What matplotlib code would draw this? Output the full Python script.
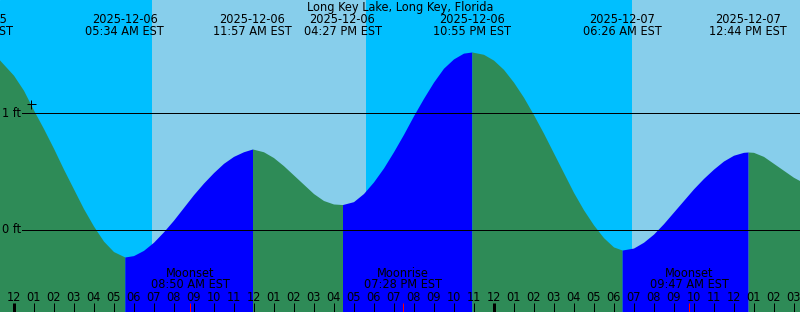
import matplotlib
matplotlib.use("Agg")
import matplotlib.pyplot as plt
import matplotlib.transforms as mtransforms
from datetime import datetime

# ---------------- data ----------------
title = "Long Key Lake, Long Key, Florida"

# tide height samples (hours after 2025-12-06 00:00 EST, feet)
tide_hours = [-1.0, -0.675, 0.0, 0.5, 1.0, 1.5, 2.0, 2.5, 3.0, 3.5, 4.0, 4.5, 5.0, 5.567,
              6.0, 6.5, 7.0, 7.5, 8.0, 8.5, 9.0, 9.5, 10.0, 10.5, 11.0, 11.5, 11.95,
              12.5, 13.0, 13.5, 14.0, 14.5, 15.0, 15.5, 16.0, 16.45,
              17.0, 17.5, 18.0, 18.5, 19.0, 19.5, 20.0, 20.5, 21.0, 21.5, 22.0, 22.5, 22.917,
              23.5, 24.0, 24.5, 25.0, 25.5, 26.0, 26.5, 27.0, 27.5, 28.0, 28.5, 29.0, 29.5, 30.0, 30.433,
              31.0, 31.5, 32.0, 32.5, 33.0, 33.5, 34.0, 34.5, 35.0, 35.5, 36.0, 36.5, 36.733,
              37.0, 37.5, 38.0, 38.5, 39.0, 39.325, 39.5]
tide_feet = [1.53, 1.457, 1.33, 1.20, 1.03, 0.87, 0.70, 0.52, 0.35, 0.18, 0.03, -0.10, -0.19, -0.237,
             -0.225, -0.18, -0.11, -0.02, 0.08, 0.19, 0.30, 0.40, 0.49, 0.57, 0.63, 0.67, 0.694,
             0.67, 0.62, 0.55, 0.47, 0.39, 0.31, 0.25, 0.22, 0.215,
             0.24, 0.31, 0.41, 0.53, 0.67, 0.82, 0.98, 1.13, 1.27, 1.39, 1.47, 1.52, 1.53,
             1.51, 1.46, 1.38, 1.27, 1.14, 0.99, 0.83, 0.66, 0.49, 0.32, 0.17, 0.04, -0.07, -0.15, -0.177,
             -0.16, -0.11, -0.04, 0.05, 0.15, 0.25, 0.35, 0.44, 0.52, 0.59, 0.64, 0.665, 0.668,
             0.665, 0.63, 0.57, 0.51, 0.45, 0.42, 0.40]

# high / low tide labels
ext_dates = ["2025-12-05", "2025-12-06", "2025-12-06", "2025-12-06", "2025-12-06",
             "2025-12-07", "2025-12-07", "2025-12-07"]
ext_times = ["10:02 PM EST", "05:34 AM EST", "11:57 AM EST", "04:27 PM EST", "10:55 PM EST",
             "06:26 AM EST", "12:44 PM EST", "05:17 PM EST"]

# moon events
moon_names = ["Moonset", "Moonrise", "Moonset"]
moon_dates = ["2025-12-06", "2025-12-06", "2025-12-07"]
moon_times = ["08:50 AM EST", "07:28 PM EST", "09:47 AM EST"]

# daylight intervals (hours after 2025-12-06 00:00)
day_start = [6.93, 30.93]
day_end = [17.6, 42.0]

# current-time marker
now_hour = 0.85
now_feet = 1.078

hour_labels = ["12", "01", "02", "03", "04", "05", "06", "07", "08", "09", "10", "11"]
level_values = [0, 1]
level_labels = ["0 ft", "1 ft"]

# ---------------- helpers ----------------
base = datetime(2025, 12, 6)


def to_hours(d, t):
    dt = datetime.strptime(d + " " + t.replace(" EST", ""), "%Y-%m-%d %I:%M %p")
    return (dt - base).total_seconds() / 3600.0


W, H = 800, 312
X0, X1 = -0.675, 39.325
Y0, Y1 = -0.711, 1.978

fig = plt.figure(figsize=(W / 100, H / 100), dpi=100)
ax = fig.add_axes([0, 0, 1, 1])
ax.set_xlim(X0, X1)
ax.set_ylim(Y0, Y1)
ax.axis("off")

NIGHT = "#00BFFF"
DAY = "#87CEEB"
FLOOD = "#0000FF"
EBB = "#2E8B57"

ax.add_patch(plt.Rectangle((X0, Y0), X1 - X0, Y1 - Y0, color=NIGHT, zorder=0))
for s, e in zip(day_start, day_end):
    ax.axvspan(s, e, color=DAY, lw=0, zorder=0.5)

# tide fill: flood (rising) blue, ebb (falling) green
groups = []
cur = None
for i in range(len(tide_hours) - 1):
    col = FLOOD if tide_feet[i + 1] > tide_feet[i] else EBB
    if cur is None or cur[0] != col:
        cur = [col, [i]]
        groups.append(cur)
    cur[1].append(i + 1)
for col, idx in groups:
    xs = [tide_hours[k] for k in idx]
    ys = [tide_feet[k] for k in idx]
    ax.fill_between(xs, ys, Y0, color=col, lw=0, zorder=1)

px = 0.72  # one pixel in points
trans_xd = mtransforms.blended_transform_factory(ax.transData, ax.transAxes)
trans_ay = mtransforms.blended_transform_factory(ax.transAxes, ax.transData)

FS = 9.1
font = dict(family="DejaVu Sans", fontstretch="condensed", fontsize=FS, color="black")

# level lines and labels
for v, lab in zip(level_values, level_labels):
    ax.plot([22 / W, 1.0], [v, v], transform=trans_ay, color="black", lw=px, zorder=3)
    ax.text(2 / W, v, lab, transform=trans_ay, ha="left", va="center", zorder=4, **font)


def yf(ypx):
    return 1 - ypx / H


# title
ax.text(0.5, yf(7.5), title, transform=ax.transAxes, ha="center", va="center", zorder=5, **font)

# extremum labels
for d, t in zip(ext_dates, ext_times):
    h = to_hours(d, t)
    ax.text(h, yf(19.5), d, transform=trans_xd, ha="center", va="center", zorder=5, **font)
    ax.text(h, yf(31.5), t, transform=trans_xd, ha="center", va="center", zorder=5, **font)

# moon labels and red ticks
for n, d, t in zip(moon_names, moon_dates, moon_times):
    h = to_hours(d, t)
    ax.text(h, yf(273.5), n, transform=trans_xd, ha="center", va="center", zorder=5, **font)
    ax.text(h, yf(285), t, transform=trans_xd, ha="center", va="center", zorder=5, **font)
    ax.plot([h, h], [yf(303), 0], transform=trans_xd, color="red", lw=px, zorder=6,
            solid_capstyle="butt")

# hour ticks and labels
for k in range(0, 40):
    lab = hour_labels[k % 12]
    ax.text(k, yf(297.5), lab, transform=trans_xd, ha="center", va="center", zorder=5, **font)
    lw = 3 * px if k % 24 == 0 else px
    ax.plot([k, k], [yf(303), 0], transform=trans_xd, color="black", lw=lw, zorder=5,
            solid_capstyle="butt")

# now marker
ax.plot([now_hour], [now_feet], marker="+", markersize=9 * px, mew=px, color="black", zorder=7)

fig.savefig("out.png", dpi=100)
